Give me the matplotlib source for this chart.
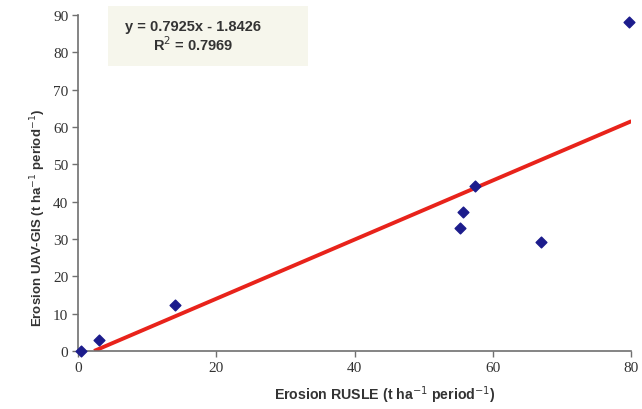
import matplotlib
matplotlib.use("Agg")
import matplotlib.pyplot as plt
from matplotlib.patches import Rectangle
import numpy as np

# values
rusle = [0.5, 3.0, 14.0, 55.2, 55.6, 57.4, 67.0, 79.7]
uav_gis = [0.0, 3.0, 12.2, 33.0, 37.2, 44.2, 29.2, 88.0]
slope = 0.7925
intercept = -1.8426
r_squared = 0.7969
x_ticks = [0, 20, 40, 60, 80]
y_ticks = [0, 10, 20, 30, 40, 50, 60, 70, 80, 90]

fig = plt.figure(figsize=(6.42, 4.10), dpi=100, facecolor="white")
ax = fig.add_axes([0.1215, 0.1415, 0.862, 0.8195])

# trend line from where it crosses zero to the right edge
x_line = np.array([-intercept / slope, 80.0])
ax.plot(x_line, slope * x_line + intercept, color="#e8231b", linewidth=2.8,
        solid_capstyle="butt", zorder=2)
ax.scatter(rusle, uav_gis, marker="D", s=30, color="#1c1c8c",
           edgecolors="#1c1c8c", zorder=3, clip_on=False)

ax.set_xlim(0, 80)
ax.set_ylim(0, 90)
ax.set_xticks(x_ticks)
ax.set_yticks(y_ticks)
for side in ("top", "right"):
    ax.spines[side].set_visible(False)
for side in ("left", "bottom"):
    ax.spines[side].set_color("#707070")
    ax.spines[side].set_linewidth(1.2)
ax.tick_params(axis="both", direction="out", length=4, width=1.0,
               color="#707070", labelsize=11, labelcolor="#333333", pad=3)
for label in ax.get_xticklabels() + ax.get_yticklabels():
    label.set_family("Liberation Serif")

ax.set_xlabel("Erosion RUSLE (t ha$^{-1}$ period$^{-1}$)", fontsize=10.2,
              fontweight="bold", family="Liberation Sans", color="#333333")
ax.set_ylabel("Erosion UAV-GIS (t ha$^{-1}$ period$^{-1}$)", fontsize=9.5,
              fontweight="bold", family="Liberation Sans", color="#333333")
ax.xaxis.set_label_coords(0.555, -0.095)
ax.yaxis.set_label_coords(-0.055, 0.40)

# equation box (figure coordinates)
fig.patches.append(Rectangle((108 / 642, 1 - 67 / 410), 200 / 642, 60 / 410,
                             transform=fig.transFigure, facecolor="#f6f6ec",
                             edgecolor="none", zorder=0))
fig.text(193 / 642, 1 - 27 / 410, f"y = {slope}x - {-intercept}",
         ha="center", va="center", fontsize=10.5, fontweight="bold",
         family="Liberation Sans", color="#333333")
fig.text(193 / 642, 1 - 45 / 410, f"R$^2$ = {r_squared}",
         ha="center", va="center", fontsize=10.5, fontweight="bold",
         family="Liberation Sans", color="#333333")

fig.savefig("out.png", dpi=100, facecolor=fig.get_facecolor())
